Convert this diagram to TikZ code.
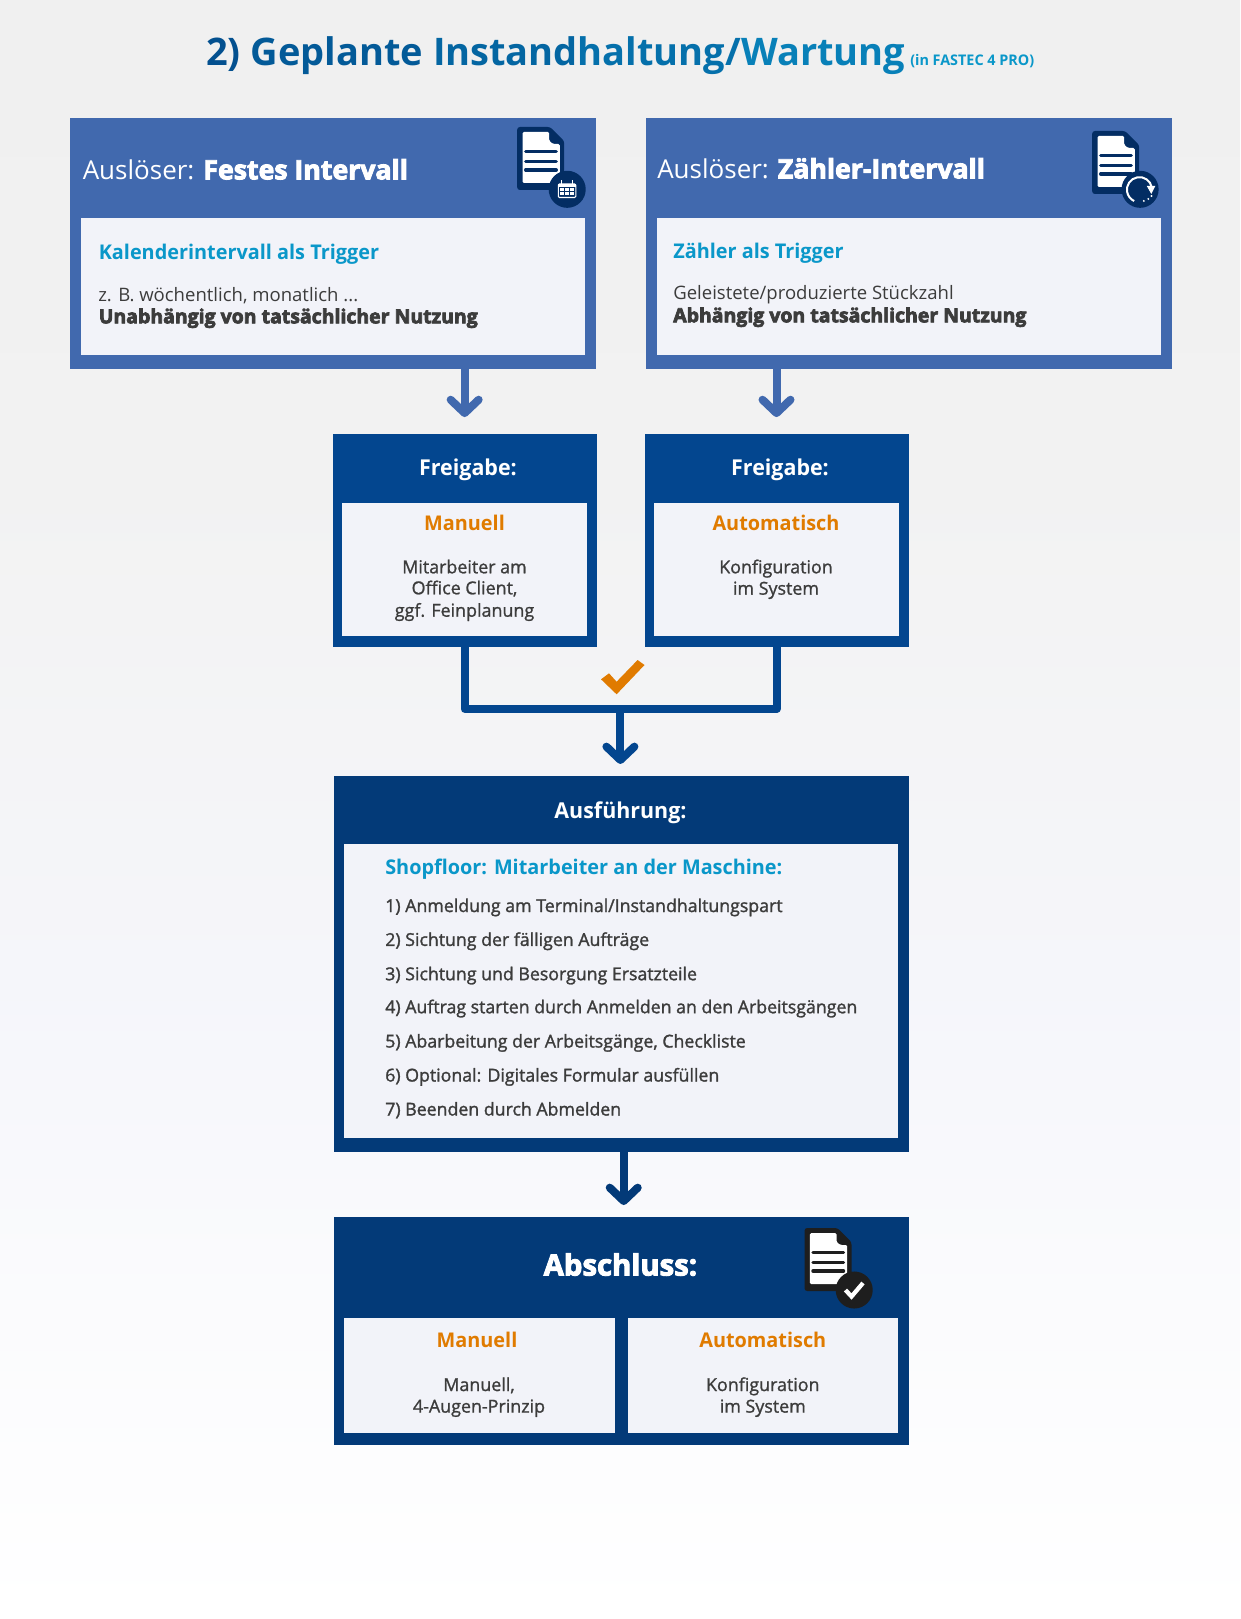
\documentclass[tikz,border=0pt]{standalone}
\usepackage{fontspec}
\setmainfont{Open Sans}
\newfontfamily\semifamily{Open Sans}[FakeStretch=0.98]
\newcommand*\semifont{\semifamily\bfseries}
\newcommand*\blackfont{\normalfont\bfseries}
% outlined glyphs, for the heavy face that the family does not have
\newcommand*\heavy[2][.55]{\special{pdf:literal 2 Tr #1 w}#2\special{pdf:literal 0 Tr 1 w}}
\usetikzlibrary{arrows.meta}
\def\px{0.75pt}
\definecolor{triggerblue}{HTML}{4169AE}
\definecolor{releaseblue}{HTML}{03468F}
\definecolor{runblue}{HTML}{033A78}
\definecolor{navy}{HTML}{032D63}
\definecolor{paneltint}{HTML}{F2F3F9}
\definecolor{cyantext}{HTML}{0A97C9}
\definecolor{orangetext}{HTML}{E07B00}
\definecolor{darktext}{HTML}{3C3C3C}
\definecolor{coalblack}{HTML}{1E1E1E}
\pgfdeclareverticalshading{pagefade}{100bp}{%
    color(0bp)=(white); color(25bp)=(white); color(36.4bp)=(white!60!paneltint);
    color(44.1bp)=(white!25!paneltint); color(59.6bp)=(black!5); color(75bp)=(black!6); color(100bp)=(black!6)}
% document sheet with three lines, top left corner at #1/#2
\newcommand*\docSheet[3]{%
    \begin{scope}[shift={(#1,#2)}]
      \fill[#3,rounded corners=2pt] (0,0) -- (33,0) -- (47,14) -- (47,63) -- (0,63) -- cycle;
      \fill[white,rounded corners=1pt] (5.4,5) -- (32,5) -- (32,14) -- (36,17) -- (42.6,17) -- (42.6,56) -- (5.4,56) -- cycle;
      \foreach \yline in {24.7,34.3,43}
        \draw[#3,line width=2.6pt,line cap=round] (8.5,\yline) -- (39,\yline);
    \end{scope}%
}
\tikzset{
    outerbox/.style={rectangle,inner sep=0pt,outer sep=0pt},
    panel/.style={rectangle,inner sep=0pt,outer sep=0pt,fill=paneltint},
    flow/.style={line width=6pt,line join=round,-{Straight Barb[length=10pt,width=21pt,round]}},
    headtext/.style={inner sep=0pt,anchor=base west,text=white,font=\fontsize{19.5pt}{22pt}\selectfont},
    bandtext/.style={inner sep=0pt,anchor=base,text=white,font=\fontsize{16.4pt}{19pt}\semifont},
    subhead/.style={inner sep=0pt,anchor=base west,text=cyantext,font=\fontsize{15.2pt}{19pt}\semifont},
    orangehead/.style={inner sep=0pt,anchor=base,text=orangetext,font=\fontsize{15.2pt}{19pt}\semifont},
    bodytext/.style={inner sep=0pt,anchor=base west,text=darktext,font=\fontsize{13.9pt}{16pt}\selectfont},
    bodymid/.style={bodytext,anchor=base,font=\fontsize{13.4pt}{16pt}\selectfont},
    strongtext/.style={bodytext,font=\fontsize{14.6pt}{16pt}\blackfont},
    steptext/.style={bodytext,font=\fontsize{13.3pt}{16pt}\selectfont}
}
\begin{document}
\begin{tikzpicture}[x=0.75pt,y=-0.75pt]
\path[use as bounding box,shading=pagefade] (0,0) rectangle (1240,1619);
% title
\node[inner sep=0pt,anchor=base west,font=\fontsize{28.5pt}{34pt}\normalfont\bfseries] (title) at (206,66)
  {\textcolor[HTML]{03508F}{2) }\textcolor[HTML]{035A98}{Geplante }\textcolor[HTML]{0466A2}{Instand}\textcolor[HTML]{0570AB}{haltung/}\textcolor[HTML]{0880B8}{Wartung}};
\node[inner sep=0pt,anchor=base west,text=cyantext,font=\fontsize{11pt}{12pt}\semifont] (subtitle) at (910,66) {(in FASTEC 4 PRO)};
% triggers
\node[outerbox,fill=triggerblue,minimum width=526*\px,minimum height=250.7*\px] (t1) at (333,243.35) {};
\node[panel,minimum width=504*\px,minimum height=136.7*\px] (t1in) at (333,286.65) {};
\node[outerbox,fill=triggerblue,minimum width=526*\px,minimum height=250.7*\px] (t2) at (908.7,243.35) {};
\node[panel,minimum width=504*\px,minimum height=136.7*\px] (t2in) at (908.7,286.65) {};
\node[headtext] (t1head) at (82.5,179.3) {Ausl\"oser: {\fontsize{20pt}{22pt}\blackfont\heavy[.7]{Festes Intervall}}};
\node[headtext] (t2head) at (657,178.3) {Ausl\"oser: {\fontsize{20pt}{22pt}\blackfont\heavy[.7]{Z\"ahler-Intervall}}};
\node[subhead] (t1sub) at (98.5,260) {Kalenderintervall als Trigger};
\node[subhead] (t2sub) at (673,259) {Z\"ahler als Trigger};
\node[bodytext] (t1txt) at (98,301) {z. B. w\"ochentlich, monatlich ...};
\node[strongtext] (t1str) at (98.5,323.3) {\heavy{Unabh\"angig von tats\"achlicher Nutzung}};
\node[bodytext] (t2txt) at (673,300) {Geleistete/produzierte St\"uckzahl};
\node[strongtext] (t2str) at (673,322.3) {\heavy{Abh\"angig von tats\"achlicher Nutzung}};
% release
\node[outerbox,fill=releaseblue,minimum width=264*\px,minimum height=213.3*\px] (f1) at (464.65,540.65) {};
\node[panel,minimum width=245*\px,minimum height=133*\px] (f1in) at (464.5,569.5) {};
\node[outerbox,fill=releaseblue,minimum width=264*\px,minimum height=213.3*\px] (f2) at (776.5,540.65) {};
\node[panel,minimum width=245*\px,minimum height=133*\px] (f2in) at (776.5,569.5) {};
\node[bandtext] (f1head) at (468,475.8) {Freigabe:};
\node[bandtext] (f2head) at (780,475.8) {Freigabe:};
\node[orangehead] (f1sub) at (464.5,530) {Manuell};
\node[orangehead] (f2sub) at (776,530) {Automatisch};
\node[bodymid] (f1a) at (464.5,573.3) {\heavy[.15]{Mitarbeiter am}};
\node[bodymid] (f1b) at (464.5,594.3) {\heavy[.15]{Office Client,}};
\node[bodymid] (f1c) at (464.5,616.7) {\heavy[.15]{ggf. Feinplanung}};
\node[bodymid] (f2a) at (776,573.3) {\heavy[.15]{Konfiguration}};
\node[bodymid] (f2b) at (776,594.7) {\heavy[.15]{im System}};
% execution
\node[outerbox,fill=runblue,minimum width=574.6*\px,minimum height=375.8*\px] (run) at (621.2,963.6) {};
\node[panel,minimum width=553.6*\px,minimum height=294.5*\px] (runin) at (620.8,990.75) {};
\node[bandtext] (runhead) at (620.5,818.5) {Ausf\"uhrung:};
\node[subhead] (runsub) at (385,874.3) {Shopfloor: Mitarbeiter an der Maschine:};
\foreach \ypos/\nline/\steptxt in {912/1/{1) Anmeldung am Terminal/Instandhaltungspart},
                                    945.9/2/{2) Sichtung der f\"alligen Auftr\"age},
                                    980.2/3/{3) Sichtung und Besorgung Ersatzteile},
                                    1013.2/4/{4) Auftrag starten durch Anmelden an den Arbeitsg\"angen},
                                    1047.5/5/{5) Abarbeitung der Arbeitsg\"ange, Checkliste},
                                    1081.5/6/{6) Optional: Digitales Formular ausf\"ullen},
                                    1115.5/7/{7) Beenden durch Abmelden}}
  \node[steptext] (step\nline) at (385,\ypos) {\heavy[.2]{\steptxt}};
% closing
\node[outerbox,fill=runblue,minimum width=574.6*\px,minimum height=228*\px] (end) at (621.2,1331) {};
\node[panel,minimum width=270.7*\px,minimum height=115.3*\px] (endl) at (479.35,1375.65) {};
\node[panel,minimum width=269.5*\px,minimum height=115.3*\px] (endr) at (762.75,1375.65) {};
\node[inner sep=0pt,anchor=base,text=white,font=\fontsize{22pt}{25pt}\blackfont] (endhead) at (620.4,1275.5) {\heavy[.7]{Abschluss:}};
\node[orangehead] (endlsub) at (477,1347.8) {Manuell};
\node[orangehead] (endrsub) at (762.8,1347.8) {Automatisch};
\node[bodymid] (endla) at (479,1391) {\heavy[.15]{Manuell,}};
\node[bodymid] (endlb) at (479,1412.6) {\heavy[.15]{4-Augen-Prinzip}};
\node[bodymid] (endra) at (762.8,1391) {\heavy[.15]{Konfiguration}};
\node[bodymid] (endrb) at (762.8,1412.6) {\heavy[.15]{im System}};
% connectors
\coordinate (merge) at (620.4,709);
\draw[flow,triggerblue,shorten >=12.7pt] (f1.north |- t1.south) -- (f1.north);
\draw[flow,triggerblue,shorten >=12.7pt] (f2.north |- t2.south) -- (f2.north);
\draw[line width=6pt,releaseblue,line join=round] (f1.south) |- (merge) -| (f2.south);
\draw[flow,releaseblue,shorten >=8.8pt] (merge) -- (merge |- run.north);
\draw[flow,runblue,shorten >=9pt] ([xshift=1.9pt]run.south) -- ([xshift=1.9pt]end.north);
% check mark
\fill[orangetext] (601,679.3) -- (616.6,694.3) -- (644.5,665) -- (637.6,660) -- (616.6,681.7) -- (609,673.3) -- cycle;
% icons
\docSheet{517.2}{127}{navy}
\fill[navy] (567.2,189.3) circle[radius=13.9pt];
\draw[white,line width=.8pt,rounded corners=.8pt] (558.3,184) rectangle (575.8,197.5);
\fill[white] (558.3,184) rectangle (575.8,187);
\draw[white,line width=.9pt] (561.8,180.5) -- (561.8,185) (572.3,180.5) -- (572.3,185);
\foreach \xcell in {560.3,565.3,570.3}
  \foreach \ycell in {188.5,192.5}
    \fill[white] (\xcell,\ycell) rectangle +(3.6,3);
\docSheet{1092.2}{131}{navy}
\fill[navy] (1140.1,189.3) circle[radius=13.9pt];
\draw[white,line width=1.5pt] (1151.8,187.5) arc[start angle=10,end angle=245,radius=9.4pt];
\fill[white] (1146.8,186) -- (1155.3,186) -- (1151.3,194) -- cycle;
\foreach \xdot/\ydot in {1143.8/201,1148.3/199,1151.5/196}
  \fill[white] (\xdot,\ydot) circle[radius=.8pt];
\docSheet{804.5}{1228}{coalblack}
\fill[coalblack] (854.2,1290) circle[radius=13.9pt];
\draw[white,line width=3.2pt] (845.5,1290) -- (851.5,1296.5) -- (863,1283);
\end{tikzpicture}
\end{document}
